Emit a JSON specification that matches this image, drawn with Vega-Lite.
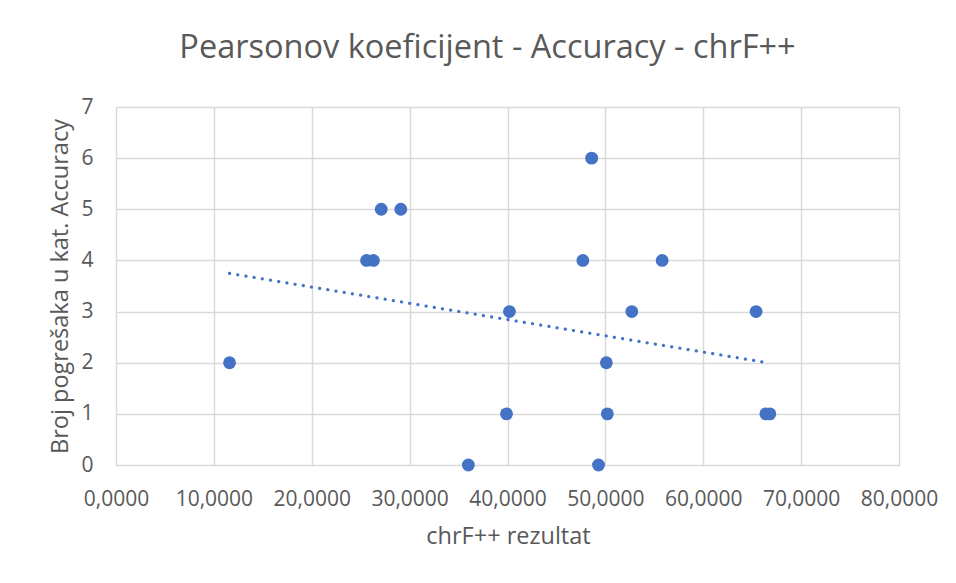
{
  "$schema": "https://vega.github.io/schema/vega-lite/v6.json",
  "width": 783,
  "height": 358,
  "autosize": {"type": "none"},
  "padding": {"left": 116, "top": 107, "right": 57, "bottom": 118},
  "background": "white",
  "title": {
    "text": "Pearsonov koeficijent - Accuracy - chrF++",
    "font": "Open Sans",
    "fontSize": 32.5,
    "fontWeight": "normal",
    "color": "#595959",
    "anchor": "middle",
    "baseline": "alphabetic",
    "offset": 6,
    "dx": -20
  },
  "config": {
    "view": {"stroke": null},
    "axis": {
      "labelFont": "Open Sans",
      "titleFont": "Open Sans",
      "labelColor": "#595959",
      "titleColor": "#595959",
      "labelFontSize": 21,
      "titleFontSize": 23.5,
      "titleFontWeight": "normal",
      "gridColor": "#d9d9d9",
      "gridWidth": 1.5,
      "ticks": false,
      "tickSize": 0,
      "domain": false,
      "labelOverlap": false,
      "labelFlush": false
    }
  },
  "data": {
    "values": [
      {"chrf": 11.6, "errors": 2},
      {"chrf": 25.6, "errors": 4},
      {"chrf": 26.3, "errors": 4},
      {"chrf": 27.1, "errors": 5},
      {"chrf": 29.1, "errors": 5},
      {"chrf": 36.0, "errors": 0},
      {"chrf": 39.9, "errors": 1},
      {"chrf": 40.2, "errors": 3},
      {"chrf": 47.7, "errors": 4},
      {"chrf": 48.6, "errors": 6},
      {"chrf": 49.3, "errors": 0},
      {"chrf": 50.1, "errors": 2},
      {"chrf": 50.2, "errors": 1},
      {"chrf": 52.7, "errors": 3},
      {"chrf": 55.8, "errors": 4},
      {"chrf": 65.4, "errors": 3},
      {"chrf": 66.4, "errors": 1},
      {"chrf": 66.8, "errors": 1}
    ]
  },
  "encoding": {
    "x": {
      "field": "chrf",
      "type": "quantitative",
      "scale": {"domain": [0, 80], "nice": false, "zero": true},
      "axis": {
        "title": "chrF++ rezultat",
        "values": [0, 10, 20, 30, 40, 50, 60, 70, 80],
        "format": ".4f",
        "labelExpr": "replace(datum.label, '.', ',')",
        "labelBaseline": "alphabetic",
        "labelPadding": 40,
        "titleBaseline": "alphabetic",
        "titleX": 392,
        "titleY": 78,
        "titleAnchor": "middle"
      }
    },
    "y": {
      "field": "errors",
      "type": "quantitative",
      "scale": {"domain": [0, 7], "nice": false},
      "axis": {
        "title": "Broj pogrešaka u kat. Accuracy",
        "values": [0, 1, 2, 3, 4, 5, 6, 7],
        "labelPadding": 23,
        "titleBaseline": "alphabetic",
        "titleX": -49,
        "titleY": 179,
        "titleAngle": -90,
        "titleAnchor": "middle"
      }
    }
  },
  "layer": [
    {
      "transform": [{"regression": "errors", "on": "chrf"}],
      "mark": {
        "type": "line",
        "color": "#4472C4",
        "strokeWidth": 3.2,
        "strokeDash": [0.1, 8.2],
        "strokeCap": "round"
      }
    },
    {
      "mark": {"type": "circle", "color": "#4472C4", "size": 165, "opacity": 1}
    }
  ]
}
